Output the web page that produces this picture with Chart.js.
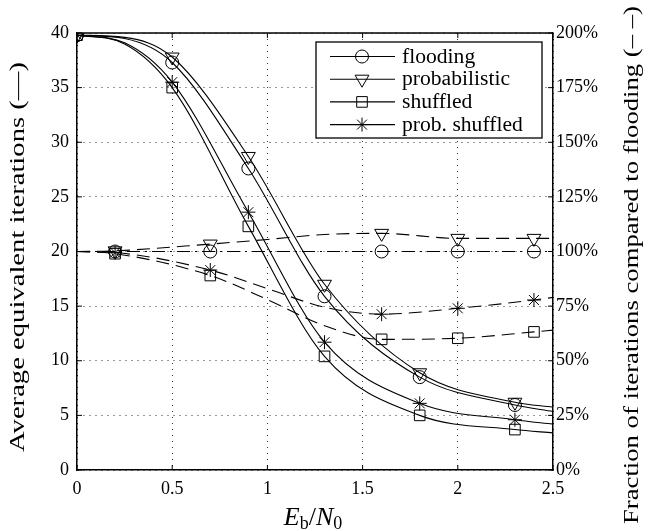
<!DOCTYPE html>
<html>
<head>
<meta charset="utf-8">
<script src="https://cdn.jsdelivr.net/npm/chart.js@4/dist/chart.umd.min.js"></script>
<style>
  html, body { margin: 0; padding: 0; background: #fff; }
  #wrap { position: relative; width: 648px; height: 531px; }
</style>
</head>
<body>
<div id="wrap"><canvas id="c" width="648" height="531"></canvas></div>
<script>
// ---- Average equivalent iterations (left axis, solid lines) ----
const ebn0 = [0, 0.25, 0.5, 0.9, 1.3, 1.8, 2.3, 2.5];
const ebn0Marked = [0, 0.5, 0.9, 1.3, 1.8, 2.3];
const itFlooding      = [39.8, 39.5, 37.3, 27.6, 15.9, 8.5, 5.95, 5.35];
const itProbabilistic = [39.8, 39.6, 37.8, 28.7, 17.0, 8.9, 6.2, 5.75];
const itShuffled      = [39.8, 39.0, 35.0, 22.3, 10.4, 5.0, 3.7, 3.4];
const itProbShuffled  = [39.8, 39.1, 35.5, 23.6, 11.7, 6.1, 4.6, 4.2];

// ---- Fraction of iterations compared to flooding, % (right axis, dashed) ----
const ratioX = [0, 0.2, 0.7, 1.0, 1.3, 1.6, 2.0, 2.4, 2.5];
const ratioMarked = [0.2, 0.7, 1.6, 2.0, 2.4];
const ratioFlooding      = [100, 100, 100, 100, 100, 100, 100, 100, 100];
const ratioProbabilistic = [100, 100.3, 103.4, 105.5, 107.8, 108.3, 106, 106, 106];
const ratioShuffled      = [100, 99, 89, 78, 66, 59.8, 60.3, 63.2, 64];
const ratioProbShuffled  = [100, 99.5, 91.5, 83, 74.5, 71.3, 74, 77.8, 79];

// ---- Axis ticks ----
const xTicks = [0, 0.5, 1, 1.5, 2, 2.5];
const yTicks = [0, 5, 10, 15, 20, 25, 30, 35, 40];
const y2Ticks = [0, 25, 50, 75, 100, 125, 150, 175, 200];

const serif = '"Liberation Serif", "DejaVu Serif", serif';

const MARKS = {
  circle: { pointStyle: 'circle',   rotation: 0,   radius: 6.5 },
  tri:    { pointStyle: 'triangle', rotation: 180, radius: 8 },
  square: { pointStyle: 'rect',     rotation: 0,   radius: 7.5 },
  star:   { pointStyle: 'star',     rotation: 0,   radius: 7 }
};

const DASH = [13, 7];
const DASH_DOT = [13, 5, 2, 5];

function pts(xs, ys) { return xs.map((x, i) => ({ x: x, y: ys[i] })); }

function series(label, xs, ys, marked, mark, axis, dash) {
  return {
    label: label,
    data: pts(xs, ys),
    yAxisID: axis,
    inLegend: axis === 'y',
    mark: mark,
    borderColor: '#000',
    borderWidth: 1.1,
    borderDash: dash,
    fill: false,
    cubicInterpolationMode: 'monotone',
    pointStyle: mark.pointStyle,
    pointRotation: mark.rotation,
    pointRadius: ctx => (ctx.raw && marked.includes(ctx.raw.x)) ? mark.radius : 0,
    pointHoverRadius: 0,
    pointBorderColor: '#000',
    pointBackgroundColor: 'rgba(0,0,0,0)',
    pointBorderWidth: 1
  };
}

const datasets = [
  series('flooding',        ebn0, itFlooding,      ebn0Marked, MARKS.circle, 'y', []),
  series('probabilistic',   ebn0, itProbabilistic, ebn0Marked, MARKS.tri,    'y', []),
  series('shuffled',        ebn0, itShuffled,      ebn0Marked, MARKS.square, 'y', []),
  series('prob. shuffled',  ebn0, itProbShuffled,  ebn0Marked, MARKS.star,   'y', []),
  series('flooding (ratio)',       ratioX, ratioFlooding,      ratioMarked, MARKS.circle, 'y2', DASH_DOT),
  series('probabilistic (ratio)',  ratioX, ratioProbabilistic, ratioMarked, MARKS.tri,    'y2', DASH),
  series('shuffled (ratio)',       ratioX, ratioShuffled,      ratioMarked, MARKS.square, 'y2', DASH),
  series('prob. shuffled (ratio)', ratioX, ratioProbShuffled,  ratioMarked, MARKS.star,   'y2', DASH)
];

function drawMarker(ctx, mark, x, y) {
  if (Chart.helpers && Chart.helpers.drawPoint) {
    Chart.helpers.drawPoint(ctx, { pointStyle: mark.pointStyle, rotation: mark.rotation, radius: mark.radius, borderWidth: 1 }, x, y);
  }
}

// Text stretched along its own direction to a given length
function fitText(ctx, text, font, length) {
  ctx.font = font;
  const w = ctx.measureText(text).width;
  ctx.save();
  ctx.scale(length / w, 1);
  ctx.fillText(text, 0, 0);
  ctx.restore();
}

// Boxed legend in the upper right corner of the plot area
const boxLegend = {
  id: 'boxLegend',
  afterDraw(chart) {
    const ctx = chart.ctx;
    const items = chart.data.datasets.filter(d => d.inLegend);
    const left = 316, top = 42, w = 226, h = 96;
    ctx.save();
    ctx.fillStyle = '#fff';
    ctx.fillRect(left, top, w, h);
    ctx.strokeStyle = '#000';
    ctx.lineWidth = 1.3;
    ctx.strokeRect(left, top, w, h);
    items.forEach((d, i) => {
      const y = top + 14.5 + i * 22.7;
      ctx.setLineDash([]);
      ctx.strokeStyle = '#000';
      ctx.lineWidth = 1.1;
      ctx.beginPath();
      ctx.moveTo(330, y);
      ctx.lineTo(395, y);
      ctx.stroke();
      ctx.fillStyle = 'rgba(0,0,0,0)';
      ctx.lineWidth = 1;
      drawMarker(ctx, d.mark, 362, y);
      ctx.fillStyle = '#000';
      ctx.textAlign = 'left';
      ctx.textBaseline = 'middle';
      ctx.save();
      ctx.translate(402, y + 1);
      ctx.scale(1.08, 1);
      ctx.font = '20px ' + serif;
      ctx.fillText(d.label, 0, 0);
      ctx.restore();
    });
    ctx.restore();
  }
};

// Frame top edge, inward tick marks and axis titles
const frameAndTitles = {
  id: 'frameAndTitles',
  afterDraw(chart) {
    const ctx = chart.ctx;
    const a = chart.chartArea;
    const sx = chart.scales.x, sy = chart.scales.y;
    ctx.save();
    ctx.strokeStyle = '#000';
    ctx.lineWidth = 1.5;
    ctx.beginPath();
    ctx.moveTo(a.left, a.top);
    ctx.lineTo(a.right, a.top);
    ctx.stroke();

    ctx.lineWidth = 1;
    const tl = 5;
    xTicks.forEach(v => {
      const px = sx.getPixelForValue(v);
      ctx.beginPath();
      ctx.moveTo(px, a.bottom); ctx.lineTo(px, a.bottom - tl);
      ctx.moveTo(px, a.top); ctx.lineTo(px, a.top + tl);
      ctx.stroke();
    });
    yTicks.forEach(v => {
      const py = sy.getPixelForValue(v);
      ctx.beginPath();
      ctx.moveTo(a.left, py); ctx.lineTo(a.left + tl, py);
      ctx.moveTo(a.right, py); ctx.lineTo(a.right - tl, py);
      ctx.stroke();
    });

    ctx.fillStyle = '#000';
    ctx.textBaseline = 'middle';
    ctx.textAlign = 'center';

    // left axis title
    ctx.save();
    ctx.translate(18, 257);
    ctx.rotate(-Math.PI / 2);
    fitText(ctx, 'Average equivalent iterations (\u2014)', '22px ' + serif, 390);
    ctx.restore();

    // right axis title
    ctx.save();
    ctx.translate(632, 265);
    ctx.rotate(-Math.PI / 2);
    fitText(ctx, 'Fraction of iterations compared to flooding (\u2013 \u2013)', '22px ' + serif, 518);
    ctx.restore();

    // x axis title: E_b / N_0
    const parts = [
      { t: 'E', f: 'italic 26px ' + serif, dy: 0 },
      { t: 'b', f: '18px ' + serif, dy: 4 },
      { t: '/', f: '26px ' + serif, dy: 0 },
      { t: 'N', f: 'italic 26px ' + serif, dy: 0 },
      { t: '0', f: '18px ' + serif, dy: 4 }
    ];
    let total = 0;
    parts.forEach(p => { ctx.font = p.f; p.w = ctx.measureText(p.t).width; total += p.w; });
    let x = 313 - total / 2;
    ctx.textAlign = 'left';
    ctx.textBaseline = 'alphabetic';
    parts.forEach(p => {
      ctx.font = p.f;
      ctx.fillText(p.t, x, 525 + p.dy);
      x += p.w;
    });
    ctx.restore();
  }
};

const gridStyle = { color: '#333', lineWidth: 1, drawTicks: false };

new Chart(document.getElementById('c'), {
  type: 'line',
  data: { datasets: datasets },
  options: {
    responsive: false,
    animation: false,
    events: [],
    layout: { padding: { top: 33, left: 0, right: 0, bottom: 0 } },
    plugins: { legend: { display: false }, tooltip: { enabled: false } },
    scales: {
      x: {
        type: 'linear',
        min: 0, max: 2.5,
        afterFit(s) { s.height = 61; },
        afterBuildTicks(s) { s.ticks = xTicks.map(v => ({ value: v })); },
        ticks: { padding: 8, color: '#000', font: { family: serif, size: 18 }, callback: v => String(v) },
        grid: gridStyle,
        border: { display: true, color: '#000', width: 1.5, dash: [1, 5] }
      },
      y: {
        type: 'linear', position: 'left',
        min: 0, max: 40,
        afterFit(s) { s.width = 77; },
        afterBuildTicks(s) { s.ticks = yTicks.map(v => ({ value: v })); },
        ticks: { padding: 8, color: '#000', font: { family: serif, size: 18 }, callback: v => String(v) },
        grid: gridStyle,
        border: { display: true, color: '#000', width: 1.5, dash: [1, 5] }
      },
      y2: {
        type: 'linear', position: 'right',
        min: 0, max: 200,
        afterFit(s) { s.width = 95; },
        afterBuildTicks(s) { s.ticks = y2Ticks.map(v => ({ value: v })); },
        ticks: { padding: 3, color: '#000', font: { family: serif, size: 18 }, callback: v => v + '%' },
        grid: { display: false, drawOnChartArea: false, drawTicks: false },
        border: { display: true, color: '#000', width: 1.5 }
      }
    }
  },
  plugins: [boxLegend, frameAndTitles]
});
</script>
</body>
</html>
